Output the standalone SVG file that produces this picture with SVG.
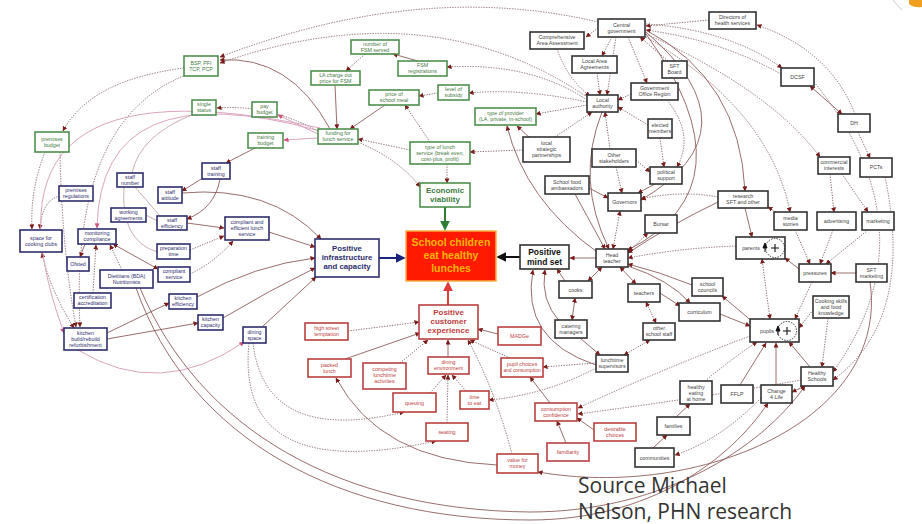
<svg xmlns="http://www.w3.org/2000/svg" width="922" height="524" viewBox="0 0 922 524">
<defs>
<marker id="a" viewBox="0 0 6 6" refX="5.5" refY="3" markerUnits="userSpaceOnUse" markerWidth="5" markerHeight="5" orient="auto-start-reverse"><path d="M0,0L6,3L0,6z" fill="#7a1c1c"/></marker>
<marker id="ap" viewBox="0 0 6 6" refX="5.5" refY="3" markerUnits="userSpaceOnUse" markerWidth="5" markerHeight="5" orient="auto-start-reverse"><path d="M0,0L6,3L0,6z" fill="#d0507e"/></marker>
<marker id="an" viewBox="0 0 6 6" refX="5" refY="3" markerUnits="userSpaceOnUse" markerWidth="10" markerHeight="10" orient="auto"><path d="M0,0L6,3L0,6z" fill="#1a237e"/></marker>
<marker id="ag" viewBox="0 0 6 6" refX="5" refY="3" markerUnits="userSpaceOnUse" markerWidth="10" markerHeight="10" orient="auto"><path d="M0,0L6,3L0,6z" fill="#2e7d32"/></marker>
<marker id="ak" viewBox="0 0 6 6" refX="5" refY="3" markerUnits="userSpaceOnUse" markerWidth="10" markerHeight="10" orient="auto"><path d="M0,0L6,3L0,6z" fill="#111"/></marker>
<marker id="ar" viewBox="0 0 6 6" refX="5" refY="3" markerUnits="userSpaceOnUse" markerWidth="10" markerHeight="10" orient="auto"><path d="M0,0L6,3L0,6z" fill="#e23a3a"/></marker>
</defs>
<style>
text{font-family:"Liberation Sans",Arial,sans-serif;font-size:5.3px;text-anchor:middle}
rect{fill:#fff;stroke-width:1.6}
.g rect{stroke:#4f8f4f}.g text{fill:#3f7a3f}
.k rect{stroke:#333}.k text{fill:#444}
.n rect{stroke:#2d2d6d}.n text{fill:#2d2d6d}
.r rect{stroke:#b84040}.r text{fill:#c04040}
.b text{font-weight:bold}
#conn path{fill:none}
.s{stroke:#8e5e5e;stroke-width:0.9;marker-end:url(#a)}
.d{stroke:#806060;stroke-width:0.9;stroke-dasharray:1.3 1.3;marker-end:url(#a)}
.p{stroke:#dba5bf;stroke-width:1;marker-end:url(#ap)}
.l{stroke:#c4a8a8;stroke-width:0.9}
.bb{marker-start:url(#a)}
</style>
<rect x="0" y="0" width="922" height="524" style="fill:#fff;stroke:none"/>
<path d="M893,0 Q898,6 902,10" style="fill:none;stroke:#ccc;stroke-width:1"/>
<path d="M909,0 L922,0 L922,7 Q914,8 909,4 Z" style="fill:#f0a020;stroke:none"/>

<g id="conn">
<!-- top cluster -->
<path class="d" d="M598,28 L586,37"/>
<path class="d" d="M612,37 L602,56"/>
<path class="d" d="M616,37 L607,95"/>
<path class="d" d="M628,37 L647,83"/>
<path class="d" d="M668,61 L640,37"/>
<path class="d" d="M597,73 L600,95"/>
<path class="d" d="M557,49 Q568,80 590,96"/>
<path class="d" d="M631,94 L618,100"/>
<path class="d" d="M667,100 Q695,135 677,167"/>
<path class="d" d="M648,125 L618,107"/>
<path class="d" d="M660,138 L664,167"/>
<path class="d" d="M587,105 L536,114"/>
<path class="d" d="M523,150 L470,152"/>
<path class="d" d="M555,137 L592,112"/>
<path class="d" d="M636,160 L650,172"/>
<path class="d" d="M610,149 L605,112"/>
<path class="d" d="M587,100 Q530,62 447,67"/>
<path class="d" d="M587,102 Q520,88 469,93"/>
<path class="d" d="M410,150 L358,139"/>
<path class="d" d="M430,142 L405,105"/>
<path class="d" d="M447,164 L447,183"/>
<path class="d" d="M358,142 Q400,160 420,187"/>
<path class="d" d="M438,93 L419,96"/>
<path class="d" d="M365,54 L346,71"/>
<path class="d" d="M318,131 Q268,104 217,108"/>
<path class="d" d="M598,22 Q420,-20 220,57"/>
<path class="d" d="M587,97 Q430,-10 220,63"/>
<path class="s" d="M330,129 Q290,55 220,60"/>
<path class="d" d="M184,68 Q90,80 63,131"/>
<path class="d" d="M186,75 Q70,120 80,327"/>
<path class="d" d="M45,152 Q30,190 32,229"/>
<path class="d" d="M60,196 Q42,200 40,229"/>
<path class="d" d="M60,152 Q62,250 76,327"/>
<path class="d bb" d="M74,328 Q50,290 42,253"/>
<path class="d" d="M93,293 L96,245"/>
<path class="d" d="M122,270 L110,245"/>
<path class="d" d="M190,250 L224,236"/>
<path class="d" d="M190,274 Q215,262 233,241"/>
<path class="d" d="M253,343 Q265,445 404,412"/>
<path class="d" d="M249,343 Q235,485 436,441"/>
<!-- right top -->
<path class="d" d="M855,114 Q830,50 757,25"/>
<path class="d" d="M709,20 L646,26"/>
<path class="d" d="M781,74 Q720,40 646,30"/>
<path class="d" d="M646,24 Q730,30 782,68"/>
<path class="d" d="M646,34 Q770,90 820,157"/>
<path class="d" d="M646,37 Q770,110 790,212"/>
<path class="s bb" d="M810,86 L842,114"/>
<path class="d" d="M858,132 L870,158"/>
<path class="d" d="M830,174 L834,212"/>
<path class="d" d="M842,174 L868,212"/>
<path class="d" d="M795,230 L810,264"/>
<path class="d" d="M833,230 L820,264"/>
<path class="d" d="M868,230 L826,264"/>
<path class="d" d="M778,213 L768,207"/>
<path class="s" d="M856,273 L831,273"/>
<path class="s" d="M799,269 L785,258"/>
<path class="d" d="M812,282 L795,319"/>
<path class="d bb" d="M762,259 L770,319"/>
<path class="s" d="M745,208 L752,237"/>
<path class="d" d="M813,310 L799,328"/>
<path class="d" d="M828,318 L822,367"/>
<path class="d" d="M814,82 Q935,230 833,372"/>
<path class="d" d="M885,177 Q915,320 833,380"/>
<path class="s" d="M646,30 Q740,80 745,191"/>
<path class="s" d="M646,32 Q760,130 641,200"/>
<path class="s" d="M646,34 Q755,185 628,250"/>
<!-- head teacher cluster -->
<path class="s" d="M596,258 L570,258"/>
<path class="s bb" d="M602,267 L588,281"/>
<path class="s bb" d="M620,267 L636,284"/>
<path class="s bb" d="M575,298 L572,320"/>
<path class="s" d="M580,338 L600,355"/>
<path class="s" d="M565,281 L557,269"/>
<path class="s" d="M560,322 Q540,300 545,270"/>
<path class="s" d="M596,365 Q520,340 533,270"/>
<path class="s" d="M589,188 L608,198"/>
<path class="s" d="M575,194 L605,249"/>
<path class="s" d="M655,184 L638,193"/>
<path class="s" d="M602,112 Q575,180 609,249"/>
<path class="s" d="M597,252 Q525,200 507,126"/>
<path class="s" d="M530,138 L517,126"/>
<path class="s" d="M718,202 Q670,225 628,253"/>
<path class="s" d="M692,285 Q660,272 628,264"/>
<path class="s" d="M628,266 Q670,280 690,303"/>
<path class="s" d="M660,293 L680,306"/>
<path class="s" d="M720,314 L750,326"/>
<path class="s" d="M753,322 L722,296"/>
<path class="d bb" d="M613,249 L620,211"/>
<path class="d bb" d="M628,252 L648,233"/>
<path class="d" d="M616,167 L622,193"/>
<path class="d" d="M736,246 Q680,248 628,258"/>
<path class="d" d="M718,197 Q680,190 641,199"/>
<path class="d bb" d="M646,302 L656,323"/>
<path class="d bb" d="M650,340 L624,355"/>
<!-- bottom right -->
<path class="s" d="M810,367 L789,342"/>
<path class="s" d="M776,385 L776,343"/>
<path class="s" d="M740,385 L766,343"/>
<path class="d" d="M705,381 Q730,360 757,342"/>
<path class="s" d="M676,417 L690,404"/>
<path class="s" d="M653,448 L667,435"/>
<path class="s bb" d="M792,392 L805,386"/>
<path class="d" d="M761,398 Q720,440 675,455"/>
<path class="d" d="M750,336 Q660,370 578,408"/>
<path class="d" d="M801,380 Q700,398 578,414"/>
<!-- red cluster -->
<path class="d" d="M348,331 L419,322"/>
<path class="d" d="M400,363 L428,340"/>
<path class="d" d="M510,358 L470,340"/>
<path class="d" d="M430,393 L446,375"/>
<path class="d" d="M447,423 L448,375"/>
<path class="d" d="M466,391 L452,375"/>
<path class="d" d="M596,363 L543,367"/>
<path class="d" d="M596,368 Q545,395 489,400"/>
<path class="d" d="M512,454 Q495,390 468,340"/>
<path class="s" d="M498,334 L478,329"/>
<path class="s" d="M345,359 L420,333"/>
<path class="s" d="M448,357 L448,340"/>
<path class="s" d="M550,403 L530,377"/>
<path class="s" d="M594,430 L577,418"/>
<path class="s" d="M566,443 L557,421"/>
<path class="s" d="M497,465 Q380,460 336,378"/>
<path class="s" d="M870,282 C890,420 700,500 538,472"/>
<!-- left cluster -->
<path class="s" d="M335,85 L337,129"/>
<path class="s" d="M385,105 L350,129"/>
<path class="s" d="M418,61 L393,54"/>
<path class="p" d="M318,134 L278,115"/>
<path class="p" d="M318,138 L284,140"/>
<path class="p" d="M320,131 Q100,70 97,228"/>
<path class="p" d="M320,128 Q-40,50 64,333"/>
<path class="p" d="M78,350 Q160,400 244,342"/>
<path class="l" d="M194,114 Q140,135 132,173"/>
<path class="l" d="M135,187 L160,216"/>
<path class="l" d="M124,187 Q120,240 157,252"/>
<path class="l" d="M146,215 L157,221"/>
<path class="s" d="M255,148 L226,163"/>
<path class="s" d="M206,176 L182,191"/>
<path class="s" d="M220,179 Q215,208 187,219"/>
<path class="s" d="M182,193 Q270,185 321,239"/>
<path class="s" d="M187,223 L224,228"/>
<path class="s" d="M269,232 L315,247"/>
<path class="s bb" d="M113,244 L158,269"/>
<path class="s" d="M85,244 L80,257"/>
<path class="s" d="M107,333 L169,303"/>
<path class="s" d="M107,339 L198,323"/>
<path class="s" d="M197,297 Q255,265 315,258"/>
<path class="s" d="M223,318 Q270,290 315,268"/>
<path class="s" d="M262,327 L316,277"/>
<path class="s" d="M140,288 C200,430 340,510 530,512 C660,512 760,450 805,386"/>
<path class="s" d="M136,288 C190,440 340,520 530,520 C650,520 730,460 768,403"/>
<!-- main arrows -->
<path d="M379,258 L404,258" style="stroke:#1a237e;stroke-width:2;marker-end:url(#an)"/>
<path d="M445,207 L445,229" style="stroke:#2e7d32;stroke-width:2;marker-end:url(#ag)"/>
<path d="M520,257 L498,257" style="stroke:#111;stroke-width:2;marker-end:url(#ak)"/>
<path d="M448,305 L448,283" style="stroke:#e23a3a;stroke-width:2;marker-end:url(#ar)"/>
</g>

<!-- green nodes -->
<g id="bsp" class="g"><rect x="184" y="56" width="34" height="20"/><text x="201" y="65">BSP, PFI</text><text x="201" y="71">TCP, PCP</text></g>
<g id="singlestatus" class="g"><rect x="192" y="100" width="24" height="15"/><text x="204" y="106">single</text><text x="204" y="112">status</text></g>
<g id="premisesbudget" class="g"><rect x="35" y="132" width="34" height="20"/><text x="52" y="141">premises</text><text x="52" y="147">budget</text></g>
<g id="fsmserved" class="g"><rect x="351" y="40" width="48" height="14"/><text x="375" y="46">number of</text><text x="375" y="52">FSM served</text></g>
<g id="fsmreg" class="g"><rect x="398" y="61" width="49" height="15"/><text x="422.5" y="67">FSM</text><text x="422.5" y="73">registrations</text></g>
<g id="lacharge" class="g"><rect x="311" y="71" width="49" height="14"/><text x="335.5" y="77">LA charge out</text><text x="335.5" y="83">price for FSM</text></g>
<g id="price" class="g"><rect x="369" y="90" width="50" height="15"/><text x="394" y="96">price of</text><text x="394" y="102">school meal</text></g>
<g id="subsidy" class="g"><rect x="438" y="85" width="31" height="15"/><text x="453.5" y="91">level of</text><text x="453.5" y="97">subsidy</text></g>
<g id="paybudget" class="g"><rect x="252" y="102" width="25" height="15"/><text x="264.5" y="108">pay</text><text x="264.5" y="114">budget</text></g>
<g id="trainingbudget" class="g"><rect x="248" y="133" width="35" height="15"/><text x="265.5" y="139">training</text><text x="265.5" y="145">budget</text></g>
<g id="funding" class="g"><rect x="318" y="129" width="40" height="15"/><text x="338" y="135">funding for</text><text x="338" y="141">lunch service</text></g>
<g id="lunchtype" class="g"><rect x="410" y="142" width="60" height="22"/><text x="440" y="149">type of lunch</text><text x="440" y="155">service (break even,</text><text x="440" y="161">cost-plus, profit)</text></g>
<g id="provider" class="g"><rect x="475" y="108" width="61" height="17"/><text x="505.5" y="115">type of provider</text><text x="505.5" y="121">(LA, private, in-school)</text></g>
<g id="economic" class="g b"><rect x="420" y="183" width="50" height="24"/><text x="445" y="193" style="font-size:8px">Economic</text><text x="445" y="202" style="font-size:8px">viability</text></g>

<!-- black nodes -->
<g id="central" class="k"><rect x="598" y="19" width="47" height="18"/><text x="621.5" y="26.5">Central</text><text x="621.5" y="32.5">government</text></g>
<g id="caa" class="k"><rect x="530" y="32" width="54" height="17"/><text x="557" y="39">Comprehensive</text><text x="557" y="45">Area Assessment</text></g>
<g id="laa" class="k"><rect x="572" y="56" width="45" height="17"/><text x="594.5" y="63">Local Area</text><text x="594.5" y="69">Agreements</text></g>
<g id="sftboard" class="k"><rect x="662" y="61" width="25" height="17"/><text x="674.5" y="68">SFT</text><text x="674.5" y="74">Board</text></g>
<g id="gor" class="k"><rect x="631" y="83" width="47" height="17"/><text x="654.5" y="90">Government</text><text x="654.5" y="96">Office Region</text></g>
<g id="la" class="k"><rect x="587" y="95" width="31" height="17"/><text x="602.5" y="102">Local</text><text x="602.5" y="108">authority</text></g>
<g id="elected" class="k"><rect x="648" y="119" width="24" height="19"/><text x="660" y="127">elected</text><text x="660" y="133">members</text></g>
<g id="lsp" class="k"><rect x="523" y="137" width="47" height="25"/><text x="546.5" y="145">local</text><text x="546.5" y="151">strategic</text><text x="546.5" y="157">partnerships</text></g>
<g id="stakeholders" class="k"><rect x="592" y="149" width="44" height="18"/><text x="614" y="156.5">Other</text><text x="614" y="162.5">stakeholders</text></g>
<g id="political" class="k"><rect x="650" y="167" width="32" height="17"/><text x="666" y="174">political</text><text x="666" y="180">support</text></g>
<g id="directors" class="k"><rect x="709" y="12" width="47" height="17"/><text x="732.5" y="19">Directors of</text><text x="732.5" y="25">health services</text></g>
<g id="dcsf" class="k"><rect x="781" y="68" width="33" height="18"/><text x="797.5" y="79">DCSF</text></g>
<g id="dh" class="k"><rect x="838" y="114" width="32" height="18"/><text x="854" y="125">DH</text></g>
<g id="commercial" class="k"><rect x="818" y="157" width="32" height="17"/><text x="834" y="164">commercial</text><text x="834" y="170">interests</text></g>
<g id="pcts" class="k"><rect x="860" y="158" width="32" height="19"/><text x="876" y="169">PCTs</text></g>
<g id="sfa" class="k"><rect x="545" y="176" width="44" height="18"/><text x="567" y="183.5">School food</text><text x="567" y="189.5">ambassadors</text></g>
<g id="governors" class="k"><rect x="608" y="193" width="33" height="18"/><text x="624.5" y="204">Governors</text></g>
<g id="bursar" class="k"><rect x="645" y="215" width="32" height="18"/><text x="661" y="226">Bursar</text></g>
<g id="mindset" class="k b"><rect x="520" y="245" width="49" height="24"/><text x="544.5" y="255" style="font-size:8.5px;fill:#111">Positive</text><text x="544.5" y="264.5" style="font-size:8.5px;fill:#111">mind set</text></g>
<g id="head" class="k"><rect x="596" y="249" width="32" height="18"/><text x="612" y="256.5">Head</text><text x="612" y="262.5">teacher</text></g>
<g id="cooks" class="k"><rect x="559" y="281" width="33" height="17"/><text x="575.5" y="291.5">cooks</text></g>
<g id="teachers" class="k"><rect x="628" y="284" width="32" height="18"/><text x="644" y="295">teachers</text></g>
<g id="catering" class="k"><rect x="555" y="320" width="32" height="18"/><text x="571" y="327.5">catering</text><text x="571" y="333.5">managers</text></g>
<g id="otherstaff" class="k"><rect x="643" y="323" width="32" height="17"/><text x="659" y="330">other</text><text x="659" y="336">school staff</text></g>
<g id="curriculum" class="k"><rect x="679" y="303" width="41" height="18"/><text x="699.5" y="314">curriculum</text></g>
<g id="councils" class="k"><rect x="692" y="278" width="31" height="18"/><text x="707.5" y="285.5">school</text><text x="707.5" y="291.5">councils</text></g>
<g id="research" class="k"><rect x="718" y="191" width="50" height="17"/><text x="743" y="198">research</text><text x="743" y="204">SFT and other</text></g>
<g id="media" class="k"><rect x="774" y="212" width="33" height="18"/><text x="790.5" y="219.5">media</text><text x="790.5" y="225.5">stories</text></g>
<g id="advertising" class="k"><rect x="817" y="212" width="39" height="18"/><text x="836.5" y="223">advertising</text></g>
<g id="marketing" class="k"><rect x="862" y="212" width="32" height="18"/><text x="878" y="223">marketing</text></g>
<g id="parents" class="k"><rect x="736" y="237" width="49" height="22"/><text x="751" y="250">parents</text><circle cx="775" cy="248" r="9.5" style="fill:none;stroke:#222;stroke-width:0.9;stroke-dasharray:1.5 1.2"/><path d="M771,248h8M775,244v8" style="stroke:#111;stroke-width:1.1"/><path d="M765,252 L765,247 M763,248 L765,243 L767,248 Z" style="fill:#111;stroke:#111;stroke-width:1"/></g>
<g id="pressures" class="k"><rect x="799" y="264" width="32" height="18"/><text x="815" y="275">pressures</text></g>
<g id="sftmarketing" class="k"><rect x="856" y="264" width="31" height="18"/><text x="871.5" y="271.5">SFT</text><text x="871.5" y="277.5">marketing</text></g>
<g id="cooking" class="k"><rect x="813" y="296" width="36" height="22"/><text x="831" y="302.5">Cooking skills</text><text x="831" y="308.5">and food</text><text x="831" y="314.5">knowledge</text></g>
<g id="pupils" class="k"><rect x="750" y="319" width="49" height="23"/><text x="767" y="333">pupils</text><circle cx="787" cy="331" r="9.5" style="fill:none;stroke:#222;stroke-width:0.9;stroke-dasharray:1.5 1.2"/><path d="M783,331h8M787,327v8" style="stroke:#111;stroke-width:1.1"/><path d="M778,335 L778,330 M776,331 L778,326 L780,331 Z" style="fill:#111;stroke:#111;stroke-width:1"/></g>
<g id="healthyschools" class="k"><rect x="801" y="367" width="32" height="19"/><text x="817" y="374.5">Healthy</text><text x="817" y="380.5">Schools</text></g>
<g id="change4life" class="k"><rect x="761" y="385" width="31" height="18"/><text x="776.5" y="392.5">Change</text><text x="776.5" y="398.5">4 Life</text></g>
<g id="fflp" class="k"><rect x="721" y="385" width="32" height="18"/><text x="737" y="396">FFLP</text></g>
<g id="eatinghome" class="k"><rect x="680" y="381" width="32" height="23"/><text x="696" y="388.5">healthy</text><text x="696" y="394.5">eating</text><text x="696" y="400.5">at home</text></g>
<g id="families" class="k"><rect x="657" y="417" width="33" height="18"/><text x="673.5" y="428">families</text></g>
<g id="communities" class="k"><rect x="635" y="448" width="39" height="19"/><text x="654.5" y="459.5">communities</text></g>
<g id="supervisors" class="k"><rect x="596" y="355" width="32" height="17"/><text x="612" y="362">lunchtime</text><text x="612" y="368">supervisors</text></g>

<!-- navy nodes -->
<g id="stafftraining" class="n"><rect x="202" y="163" width="28" height="16"/><text x="216" y="169.5">staff</text><text x="216" y="175.5">training</text></g>
<g id="staffnumber" class="n"><rect x="117" y="173" width="26" height="14"/><text x="130" y="179">staff</text><text x="130" y="185">number</text></g>
<g id="premisesreg" class="n"><rect x="59" y="186" width="34" height="15"/><text x="76" y="192">premises</text><text x="76" y="198">regulations</text></g>
<g id="staffattitude" class="n"><rect x="158" y="187" width="24" height="16"/><text x="170" y="193.5">staff</text><text x="170" y="199.5">attitude</text></g>
<g id="working" class="n"><rect x="111" y="208" width="35" height="14"/><text x="128.5" y="214">working</text><text x="128.5" y="220">agreements</text></g>
<g id="staffeff" class="n"><rect x="157" y="216" width="30" height="14"/><text x="172" y="222">staff</text><text x="172" y="228">efficiency</text></g>
<g id="compliantefficient" class="n"><rect x="225" y="217" width="44" height="23"/><text x="247" y="224">compliant and</text><text x="247" y="230">efficient lunch</text><text x="247" y="236">service</text></g>
<g id="cookingclubs" class="n"><rect x="20" y="230" width="42" height="22"/><text x="41" y="239.5">space for</text><text x="41" y="245.5">cooking clubs</text></g>
<g id="monitoring" class="n"><rect x="78" y="229" width="38" height="15"/><text x="97" y="235">monitoring</text><text x="97" y="241">compliance</text></g>
<g id="preptime" class="n"><rect x="157" y="244" width="33" height="15"/><text x="173.5" y="250">preparation</text><text x="173.5" y="256">time</text></g>
<g id="ofsted" class="n"><rect x="67" y="257" width="22" height="14"/><text x="78" y="266">Ofsted</text></g>
<g id="compliantservice" class="n"><rect x="158" y="267" width="32" height="15"/><text x="174" y="273">compliant</text><text x="174" y="279">service</text></g>
<g id="dietitians" class="n"><rect x="100" y="270" width="53" height="18"/><text x="126.5" y="277.5">Dietitians (BDA)</text><text x="126.5" y="283.5">Nutritionists</text></g>
<g id="certification" class="n"><rect x="74" y="293" width="37" height="15"/><text x="92.5" y="299">certification</text><text x="92.5" y="305">accreditation</text></g>
<g id="kitcheneff" class="n"><rect x="169" y="294" width="28" height="15"/><text x="183" y="300">kitchen</text><text x="183" y="306">efficiency</text></g>
<g id="kitchencap" class="n"><rect x="198" y="315" width="25" height="15"/><text x="210.5" y="321">kitchen</text><text x="210.5" y="327">capacity</text></g>
<g id="kitchenbuild" class="n"><rect x="64" y="328" width="43" height="22"/><text x="85.5" y="335">kitchen</text><text x="85.5" y="341">build/rebuild</text><text x="85.5" y="347">refurbishment</text></g>
<g id="diningspace" class="n"><rect x="243" y="327" width="23" height="16"/><text x="254.5" y="334">dining</text><text x="254.5" y="340">space</text></g>
<g id="infrastructure" class="n b"><rect x="315" y="239" width="64" height="38"/><text x="347" y="251" style="font-size:7.8px">Positive</text><text x="347" y="260" style="font-size:7.8px">infrastructure</text><text x="347" y="269" style="font-size:7.8px">and capacity</text></g>

<!-- red nodes -->
<g id="outcome" class="b"><rect x="406" y="231" width="90" height="50" style="fill:#ff1a00;stroke:#f5b040;stroke-width:1.5"/><text x="451" y="246" style="font-size:10.5px;fill:#f8b400">School children</text><text x="451" y="259" style="font-size:10.5px;fill:#f8b400">eat healthy</text><text x="451" y="272" style="font-size:10.5px;fill:#f8b400">lunches</text></g>
<g id="customer" class="r b"><rect x="419" y="305" width="59" height="34"/><text x="448.5" y="315" style="font-size:8px">Positive</text><text x="448.5" y="324" style="font-size:8px">customer</text><text x="448.5" y="333" style="font-size:8px">experience</text></g>
<g id="highstreet" class="r"><rect x="305" y="323" width="43" height="17"/><text x="326.5" y="330">high street</text><text x="326.5" y="336">temptation</text></g>
<g id="madge" class="r"><rect x="498" y="327" width="43" height="18"/><text x="519.5" y="338">MADGe</text></g>
<g id="packed" class="r"><rect x="308" y="359" width="43" height="18"/><text x="329.5" y="366.5">packed</text><text x="329.5" y="372.5">lunch</text></g>
<g id="competing" class="r"><rect x="363" y="363" width="43" height="26"/><text x="384.5" y="370.5">competing</text><text x="384.5" y="376.5">lunchtime</text><text x="384.5" y="382.5">activities</text></g>
<g id="diningenv" class="r"><rect x="428" y="357" width="41" height="17"/><text x="448.5" y="364">dining</text><text x="448.5" y="370">environment</text></g>
<g id="queuing" class="r"><rect x="393" y="393" width="43" height="19"/><text x="414.5" y="404.5">queuing</text></g>
<g id="seating" class="r"><rect x="426" y="423" width="42" height="18"/><text x="447" y="434">seating</text></g>
<g id="timetoeat" class="r"><rect x="460" y="391" width="29" height="18"/><text x="474.5" y="398.5">time</text><text x="474.5" y="404.5">to eat</text></g>
<g id="pupilchoices" class="r"><rect x="501" y="358" width="42" height="19"/><text x="522" y="366">pupil choices</text><text x="522" y="372" style="font-size:4.9px">and consumption</text></g>
<g id="confidence" class="r"><rect x="535" y="403" width="42" height="18"/><text x="556" y="410.5">consumption</text><text x="556" y="416.5">confidence</text></g>
<g id="desirable" class="r"><rect x="594" y="423" width="42" height="18"/><text x="615" y="430.5">desirable</text><text x="615" y="436.5">choices</text></g>
<g id="familiarity" class="r"><rect x="547" y="443" width="42" height="18"/><text x="568" y="454">familiarity</text></g>
<g id="valueformoney" class="r"><rect x="497" y="454" width="41" height="19"/><text x="517.5" y="462">value for</text><text x="517.5" y="468">money</text></g>

<g id="source"><text x="578" y="493" style="font-family:'Open Sans','Noto Sans',sans-serif;font-size:21px;text-anchor:start;fill:#333">Source Michael</text><text x="578" y="519" style="font-family:'Open Sans','Noto Sans',sans-serif;font-size:21px;text-anchor:start;fill:#333">Nelson, PHN research</text></g>
</svg>
